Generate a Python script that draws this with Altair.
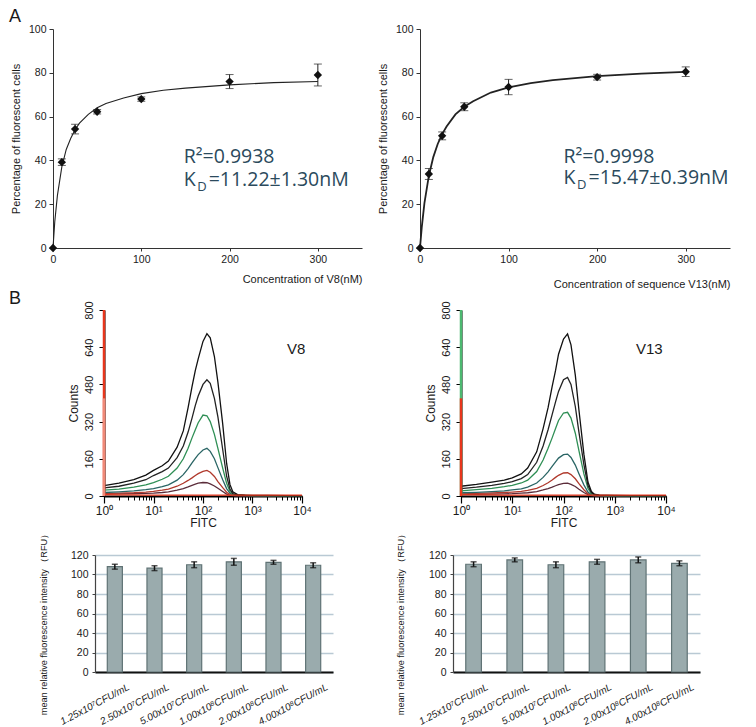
import altair as alt
import pandas as pd

# ---------------- Panel A: binding curves ----------------
conc = [0, 10, 25, 50, 100, 200, 300]
v8_pct = [0, 39.2, 54.3, 62.2, 68.0, 76.0, 79.0]
v8_err = [0, 1.5, 2.2, 1.0, 1.0, 3.2, 5.0]
v13_pct = [0, 33.8, 51.2, 64.5, 73.5, 78.0, 80.5]
v13_err = [0, 2.5, 1.8, 1.8, 3.5, 1.3, 2.2]

fit_conc = [0, 2, 5, 10, 15, 20, 25, 30, 40, 50, 60, 80, 100, 125, 150, 200, 250, 300]
v8_fit = [0, 12, 24, 37, 45, 50, 54, 57, 61, 64, 66, 68.5, 70.5, 72, 73, 74.5, 75.5, 76]
v13_fit = [0, 9.5, 20.5, 33, 41.5, 47.5, 52, 55.5, 61, 64.5, 67, 71, 73.3, 75.3, 76.7, 78.5, 79.6, 80.4]

# ---------------- Panel B: flow cytometry overlays ----------------
fitc = [1, 2, 4, 7, 10, 15, 20, 30, 40, 50, 60, 70, 80, 100, 120, 140, 170, 200,
        250, 300, 350, 400, 500, 700, 1000, 2000, 5000, 10000]
v8_h1 = [45, 55, 70, 90, 110, 130, 150, 210, 280, 380, 470, 540, 590, 665, 698, 680, 600, 490, 310, 140, 50, 18, 6, 4, 3, 3, 2, 2]
v8_h2 = [35, 42, 55, 70, 88, 105, 120, 165, 215, 275, 335, 390, 430, 480, 500, 485, 420, 340, 200, 85, 30, 10, 4, 3, 2, 2, 2, 1]
v8_h3 = [25, 30, 38, 48, 58, 72, 85, 120, 160, 205, 250, 285, 315, 348, 345, 320, 265, 205, 120, 55, 20, 8, 4, 3, 2, 2, 1, 1]
v8_h4 = [15, 18, 22, 27, 32, 40, 48, 68, 92, 118, 142, 162, 178, 198, 205, 192, 160, 122, 70, 32, 12, 5, 3, 2, 2, 1, 1, 1]
v8_h5 = [10, 12, 14, 17, 20, 25, 30, 42, 55, 67, 78, 88, 96, 106, 110, 102, 84, 62, 36, 16, 6, 3, 2, 2, 1, 1, 1, 1]
v8_h6 = [8, 9, 10, 11, 12, 15, 18, 25, 32, 39, 46, 51, 55, 58, 57, 52, 43, 33, 19, 8, 3, 2, 1, 1, 1, 1, 1, 1]

v13_h1 = [42, 50, 60, 68, 78, 95, 120, 190, 290, 380, 470, 540, 610, 675, 697, 650, 520, 370, 180, 60, 20, 8, 4, 3, 3, 2, 2, 2]
v13_h2 = [32, 38, 46, 54, 62, 75, 92, 145, 215, 285, 350, 405, 450, 500, 510, 480, 385, 275, 135, 45, 15, 6, 3, 3, 2, 2, 2, 1]
v13_h3 = [22, 27, 33, 40, 46, 56, 68, 105, 155, 205, 250, 290, 325, 357, 360, 335, 270, 195, 95, 32, 11, 5, 3, 2, 2, 1, 1, 1]
v13_h4 = [14, 16, 19, 22, 26, 31, 38, 56, 80, 104, 127, 147, 163, 178, 180, 166, 133, 96, 48, 17, 6, 3, 2, 1, 1, 1, 1, 1]
v13_h5 = [9, 11, 13, 15, 17, 20, 24, 33, 45, 57, 69, 80, 89, 99, 100, 92, 74, 53, 27, 10, 4, 2, 1, 1, 1, 1, 1, 1]
v13_h6 = [6, 7, 8, 9, 10, 12, 14, 19, 26, 32, 38, 44, 49, 54, 55, 50, 41, 29, 15, 6, 2, 1, 1, 1, 1, 1, 1, 1]

ctrl_h = [6, 5, 5, 4, 4, 4, 4, 4, 4, 4, 4, 4, 4, 4, 4, 4, 4, 4, 4, 4, 4, 4, 4, 4, 4, 4, 4, 4]

hist_names = ["c6", "c5", "c4", "c3", "c2", "c1", "ctrl"]
hist_colors = ["#5b2c3a", "#b0392c", "#2a6565", "#2f8f55", "#222222", "#111111", "#e8361c"]

# ---------------- Panel B: bar charts ----------------
cfu_labels = ["1.25x10⁷CFU/mL", "2.50x10⁷CFU/mL", "5.00x10⁷CFU/mL",
              "1.00x10⁸CFU/mL", "2.00x10⁸CFU/mL", "4.00x10⁸CFU/mL"]
v8_rfu = [108, 106.5, 110, 113, 112.5, 109.5]
v8_rfu_err = [2.5, 2.5, 3, 3.5, 2, 2.5]
v13_rfu = [110.5, 115, 110, 113, 115, 111.5]
v13_rfu_err = [2.5, 2, 3, 2.5, 3, 2.5]

AX = "Liberation Sans"
INK = "#1a1a1a"
ANN = "#2b4a5c"
ONE = pd.DataFrame({"k": [0]})


def spacer(w):
    return alt.Chart(ONE).mark_text(text="").encode(
        x=alt.value(0), y=alt.value(0)).properties(width=w, height=1)


def ghost(x1, x2, y1, y2):
    # invisible layout guide that fixes the panel's bounding box
    return alt.Chart(ONE).mark_rule(opacity=0, strokeOpacity=0).encode(
        x=alt.value(x1), x2=alt.value(x2), y=alt.value(y1), y2=alt.value(y2))


def corner(label, x, y):
    return alt.Chart(ONE).mark_text(text=label, align="left", baseline="top", font=AX,
                                    fontSize=18, color=INK).encode(
        x=alt.value(x), y=alt.value(y))


def binding_panel(pct, err, fit, xtitle, tpad, ann_x, r2_txt, kd_txt, r2_y, kd_y, width, lw, extra):
    pts = pd.DataFrame({"c": conc, "p": pct, "e": err})
    pts["lo"] = pts["p"] - pts["e"]
    pts["hi"] = pts["p"] + pts["e"]
    eb = pts[pts["e"] > 0]
    fitdf = pd.DataFrame({"c": fit_conc, "p": fit})
    xs = alt.Scale(domain=[0, 350], nice=False, zero=True)
    ys = alt.Scale(domain=[0, 100], nice=False)
    xax = alt.Axis(values=[0, 100, 200, 300], tickCount=50, title=xtitle, titleAnchor="end",
                   titlePadding=tpad, labelFont=AX, labelFontSize=10.5, labelColor=INK,
                   titleFont=AX, titleFontSize=11, titleFontWeight="normal", titleColor=INK,
                   tickSize=3, tickColor="#333", domainColor="#333", labelPadding=3,
                   grid=False, labelFlush=False)
    yax = alt.Axis(values=[0, 20, 40, 60, 80, 100], tickCount=50,
                   title="Percentage of fluorescent cells",
                   labelFont=AX, labelFontSize=10.5, labelColor=INK,
                   titleFont=AX, titleFontSize=11, titleFontWeight="normal", titleColor=INK,
                   tickSize=4, tickColor="#333", domainColor="#333", labelPadding=3,
                   titlePadding=7, grid=False, labelFlush=False)
    curve = alt.Chart(fitdf).mark_line(color="#222", strokeWidth=lw).encode(
        x=alt.X("c:Q", scale=xs, axis=xax), y=alt.Y("p:Q", scale=ys, axis=yax))
    rules = alt.Chart(eb).mark_rule(color="#222", strokeWidth=1).encode(
        x=alt.X("c:Q", scale=xs), y=alt.Y("lo:Q", scale=ys), y2="hi:Q")
    cap_lo = alt.Chart(eb).mark_tick(orient="horizontal", size=8, thickness=1, color="#222").encode(
        x=alt.X("c:Q", scale=xs), y=alt.Y("lo:Q", scale=ys))
    cap_hi = alt.Chart(eb).mark_tick(orient="horizontal", size=8, thickness=1, color="#222").encode(
        x=alt.X("c:Q", scale=xs), y=alt.Y("hi:Q", scale=ys))
    dots = alt.Chart(pts).mark_point(shape="diamond", filled=True, size=70, color="#111", opacity=1).encode(
        x=alt.X("c:Q", scale=xs), y=alt.Y("p:Q", scale=ys))
    ann = pd.DataFrame({"x": [ann_x], "y1": [r2_y], "y2": [kd_y], "r2": [r2_txt],
                        "kd": [kd_txt], "k": ["K"], "d": ["D"]})

    def txt(field, yf, dx=0, dy=0, size=19.5):
        return alt.Chart(ann).mark_text(align="left", baseline="alphabetic", font="Open Sans",
                                        fontSize=size, color=ANN, dx=dx, dy=dy).encode(
            x=alt.X("x:Q", scale=xs), y=alt.Y(f"{yf}:Q", scale=ys), text=f"{field}:N")

    layers = [curve, rules, cap_lo, cap_hi, dots, txt("r2", "y1"), txt("k", "y2"),
              txt("d", "y2", dx=13.5, dy=5, size=13), txt("kd", "y2", dx=25)] + extra
    return alt.layer(*layers).properties(width=width, height=219)


def hist_panel(curves, tag, tag_x, width, spike_main, spike_second, extra):
    rows = []
    for name, vals in zip(hist_names, curves):
        for x, y in zip(fitc, vals):
            rows.append({"x": x, "y": y, "s": name})
    df = pd.DataFrame(rows)
    xs = alt.Scale(type="log", domain=[1, 10000], nice=False)
    ys = alt.Scale(domain=[0, 800], nice=False)
    minor = [m * 10 ** k for k in range(4) for m in range(1, 10)] + [10000]
    major = [1, 10, 100, 1000, 10000]
    lab = ("datum.value == 1 ? '10⁰' : datum.value == 10 ? '10¹' : datum.value == 100 ? '10²' : "
           "datum.value == 1000 ? '10³' : datum.value == 10000 ? '10⁴' : ''")
    xax = alt.Axis(values=minor, tickCount=100, labelExpr=lab, title="FITC", tickSize=4,
                   tickColor="#000", domainWidth=2, domainColor="#000", labelFont=AX,
                   labelFontSize=12, labelColor=INK, labelFlush=False, labelOverlap=False,
                   labelPadding=5, titleFont=AX, titleFontSize=12, titleFontWeight="normal",
                   titleColor=INK, titlePadding=1, grid=False, orient="bottom")
    xmaj = alt.Axis(values=major, tickCount=100, labels=False, domain=False, title=None,
                    tickSize=7, tickColor="#000", tickWidth=1.2, grid=False, orient="bottom")
    yax = alt.Axis(values=[0, 160, 320, 480, 640, 800], tickCount=50, title="Counts",
                   labelAngle=270, labelAlign="center", labelBaseline="bottom", tickSize=5,
                   tickColor="#000", domainWidth=2, domainColor="#000", labelFont=AX,
                   labelFontSize=11, labelColor=INK, labelFlush=False, labelOverlap=False,
                   labelPadding=5, titleFont=AX, titleFontSize=12, titleFontWeight="normal",
                   titleColor=INK, titlePadding=3, grid=False)
    lines = alt.Chart(df).mark_line(strokeWidth=1.3).encode(
        x=alt.X("x:Q", scale=xs, axis=xax), y=alt.Y("y:Q", scale=ys, axis=yax),
        color=alt.Color("s:N", scale=alt.Scale(domain=hist_names, range=hist_colors), legend=None),
        detail="s:N")
    spk = pd.DataFrame({"x": [1, 1], "y0": [0, 0], "y1": [800, 420], "k": ["a", "b"]})
    spike = alt.Chart(spk).mark_rule(strokeWidth=2.5).encode(
        x=alt.X("x:Q", scale=xs, axis=None), y=alt.Y("y0:Q", scale=ys), y2="y1:Q",
        color=alt.Color("k:N", scale=alt.Scale(domain=["a", "b"], range=[spike_main, spike_second]),
                        legend=None))
    tg = pd.DataFrame({"x": [tag_x], "y": [610], "t": [tag]})
    tag_txt = alt.Chart(tg).mark_text(align="left", baseline="alphabetic", font=AX, fontSize=15,
                                      color=INK).encode(
        x=alt.X("x:Q", scale=xs, axis=xmaj), y=alt.Y("y:Q", scale=ys), text="t:N")
    return alt.layer(lines, spike, tag_txt, *extra).resolve_scale(color="independent").resolve_axis(
        x="independent").properties(width=width, height=186)


def bar_panel(vals, errs, width, title_x, extra):
    df = pd.DataFrame({"cat": cfu_labels, "v": vals, "e": errs})
    df["lo"] = df["v"] - df["e"]
    df["hi"] = df["v"] + df["e"]
    xs = alt.Scale(domain=cfu_labels, paddingInner=0.62, paddingOuter=0.31)
    ys = alt.Scale(domain=[0, 120], nice=False)
    xax = alt.Axis(title=None, labelAngle=332, labelAlign="right", labelBaseline="middle",
                   labelPadding=14, labelOffset=14, labelFont=AX, labelFontStyle="italic",
                   labelFontSize=10, labelColor=INK, ticks=False, domainWidth=2,
                   domainColor="#111")
    yax = alt.Axis(values=[0, 20, 40, 60, 80, 100, 120], tickCount=50, grid=True,
                   gridColor="#b9c9d4", gridWidth=1.5, domainColor="#444", domainWidth=1.2,
                   tickSize=3, tickColor="#444", labelOverlap=False,
                   labelFont=AX, labelFontSize=10.5, labelColor=INK, labelPadding=4,
                   title="mean relative fluorescence intensity （RFU）", titleFont=AX,
                   titleFontSize=9.2, titleFontWeight="normal", titleColor=INK,
                   titleX=title_x, titleY=67, titleAngle=270, titleAlign="center",
                   titleBaseline="bottom")
    bars = alt.Chart(df).mark_bar(color="#9aabad", stroke="#607375", strokeWidth=1.2).encode(
        x=alt.X("cat:N", scale=xs, axis=xax, sort=None), y=alt.Y("v:Q", scale=ys, axis=yax))
    rules = alt.Chart(df).mark_rule(color="#111", strokeWidth=1.5).encode(
        x=alt.X("cat:N", scale=xs, sort=None), y=alt.Y("lo:Q", scale=ys), y2="hi:Q")
    cap_lo = alt.Chart(df).mark_tick(orient="horizontal", size=6, thickness=1.5, color="#111").encode(
        x=alt.X("cat:N", scale=xs, sort=None), y=alt.Y("lo:Q", scale=ys))
    cap_hi = alt.Chart(df).mark_tick(orient="horizontal", size=6, thickness=1.5, color="#111").encode(
        x=alt.X("cat:N", scale=xs, sort=None), y=alt.Y("hi:Q", scale=ys))
    return alt.layer(bars, rules, cap_lo, cap_hi, *extra).properties(width=width, height=117)


A1 = binding_panel(v8_pct, v8_err, v8_fit, "Concentration of V8(nM)", 9, 148,
                   "R²=0.9938", "=11.22±1.30nM", 38.8, 28.3, 309, 1.1,
                   [corner("A", -44, -21), ghost(-44, 312, 100, 100)])
A2 = binding_panel(v13_pct, v13_err, v13_fit, "Concentration of sequence V13(nM)", 14, 162,
                   "R²=0.9998", "=15.47±0.39nM", 38.8, 29.2, 310, 1.8,
                   [ghost(-45, 312, 100, 261)])
H1 = hist_panel([v8_h6, v8_h5, v8_h4, v8_h3, v8_h2, v8_h1, ctrl_h], "V8", 5000, 198,
                "#e8361c", "#f08a78", [corner("B", -95, -20), ghost(-95, 212, 0, 219)])
H2 = hist_panel([v13_h6, v13_h5, v13_h4, v13_h3, v13_h2, v13_h1, ctrl_h], "V13", 2600, 205,
                "#4cb870", "#e8361c", [ghost(-45, 215, 0, 219)])
B1 = bar_panel(v8_rfu, v8_rfu_err, 238, -47, [ghost(-86, 243, -26, 100)])
B2 = bar_panel(v13_rfu, v13_rfu_err, 247, -48, [ghost(-60, 250, -26, 100)])

row1 = alt.hconcat(spacer(1), A1, spacer(10), A2, spacing=0).resolve_scale(color="independent")
row2 = alt.hconcat(spacer(1), H1, spacer(100), H2, spacing=0).resolve_scale(color="independent")
row3 = alt.hconcat(spacer(1), B1, spacer(55), B2, spacing=0).resolve_scale(color="independent")

chart = alt.vconcat(row1, row2, row3, spacing=0).resolve_scale(color="independent").properties(
    padding={"left": 0, "top": 0, "right": 5, "bottom": 5},
    background="white",
).configure_view(strokeWidth=0)

chart.save("out.html", embed_options={"renderer": "svg", "actions": False})
